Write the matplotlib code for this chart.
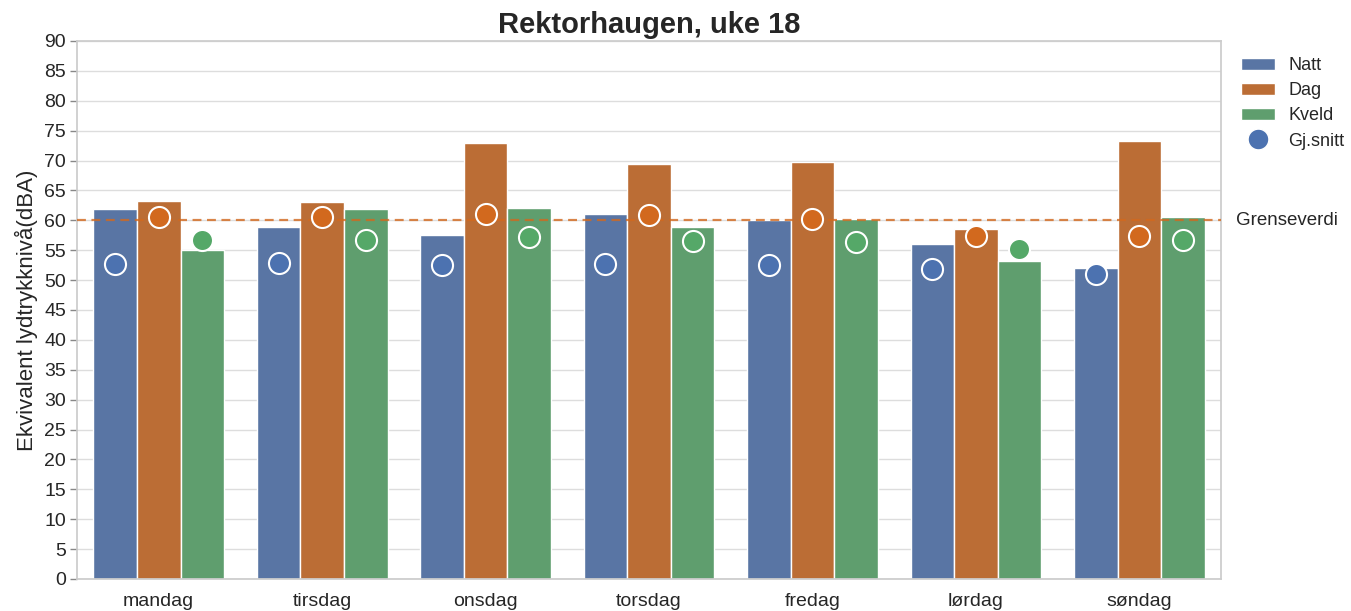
import matplotlib
matplotlib.use("Agg")
import matplotlib.pyplot as plt
import numpy as np
import seaborn as sns
from matplotlib.patches import Patch
from matplotlib.lines import Line2D

days = ["mandag", "tirsdag", "onsdag", "torsdag", "fredag", "lørdag", "søndag"]
series = ["Natt", "Dag", "Kveld"]
natt = [61.9, 58.8, 57.5, 61.0, 60.1, 56.0, 52.1]
dag = [63.2, 63.1, 73.0, 69.5, 69.8, 58.6, 73.2]
kveld = [55.0, 61.9, 62.0, 58.9, 60.2, 53.2, 60.5]
snitt_natt = [52.7, 52.8, 52.5, 52.7, 52.5, 51.9, 51.1]
snitt_dag = [60.5, 60.5, 61.1, 60.9, 60.2, 57.4, 57.3]
snitt_kveld = [56.7, 56.7, 57.2, 56.6, 56.3, 55.2, 56.7]
grenseverdi = 60
yticks = list(range(0, 95, 5))

sns.set_theme(style="whitegrid")
plt.rcParams['font.family'] = ['Liberation Sans', 'DejaVu Sans']

colors = ["#4C72B0", "#D2691E", "#55A868"]
bar_colors = [sns.desaturate(c, 0.75) for c in colors]

fig = plt.figure(figsize=(13.51, 6.11), dpi=100)
ax = fig.add_axes([0.057, 0.0524, 0.8468, 0.8805])

x = np.arange(len(days))
w = 0.8 / 3
bars = [natt, dag, kveld]
snitt = [snitt_natt, snitt_dag, snitt_kveld]
for i, (vals, sv) in enumerate(zip(bars, snitt)):
    off = (i - 1) * w
    ax.bar(x + off, vals, width=w, color=bar_colors[i], edgecolor="white", linewidth=1, zorder=2)
    ax.scatter(x + off, sv, s=230, color=colors[i], edgecolor="white", linewidth=1.5, zorder=4)

ax.axhline(grenseverdi, color="#D2691E", alpha=0.8, linestyle=(0, (4, 2.5)), linewidth=1.6, zorder=3)
ax.text(1.013, grenseverdi, "Grenseverdi", transform=ax.get_yaxis_transform(), va="center", ha="left",
        fontsize=13.5, color="#262626")

ax.set_xlim(-0.5, len(days) - 0.5)
ax.set_ylim(0, 90)
ax.set_yticks(yticks)
ax.set_xticks(x)
ax.set_xticklabels(days)
ax.tick_params(axis="y", left=True, length=5, width=1, color="#888888", labelsize=14, pad=3, labelcolor="#262626")
ax.tick_params(axis="x", labelsize=14, labelcolor="#262626", pad=4)
ax.grid(axis="x", visible=False)
ax.grid(axis="y", color="#DDDDDD", linewidth=1)
ax.set_axisbelow(True)
for sp in ax.spines.values():
    sp.set_color("#CCCCCC")
ax.set_ylabel("Ekvivalent lydtrykknivå(dBA)", fontsize=16, color="#262626", labelpad=4)
ax.set_title("Rektorhaugen, uke 18", fontsize=21, fontweight="bold", color="#262626", pad=6)

handles = [Patch(facecolor=bar_colors[i], edgecolor="white", label=series[i]) for i in range(3)]
handles.append(Line2D([], [], linestyle="none", marker="o", markersize=15, markerfacecolor=colors[0],
                      markeredgecolor="white", label="Gj.snitt"))
leg = ax.legend(handles=handles, loc="upper left", bbox_to_anchor=(1.003, 1.0), frameon=False,
                fontsize=13, handlelength=1.92, handletextpad=0.7, labelspacing=0.45)
for t in leg.get_texts():
    t.set_color("#262626")

fig.savefig("out.png", dpi=100)
